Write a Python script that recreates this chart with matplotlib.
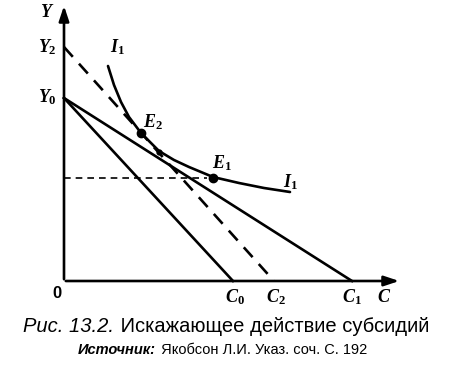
import matplotlib
matplotlib.use("Agg")
import matplotlib.pyplot as plt

plt.rcParams["mathtext.fontset"] = "custom"
plt.rcParams["mathtext.it"] = "Liberation Serif:italic:bold"
plt.rcParams["mathtext.rm"] = "Liberation Serif:bold"

# intercepts of the budget lines
Y0, Y2 = 183, 234
C0, C2, C1 = 169, 210, 288

# indifference curve I1
curve_x = [44, 50, 57, 65, 77, 86, 95, 110, 125, 149, 175, 200, 226]
curve_y = [215, 196, 179, 164, 148, 139, 130, 121, 114, 104, 98, 93, 89]

# equilibrium points
E2 = (77, 148)
Et = (95, 129)
E1 = (149, 103)

fig = plt.figure(figsize=(4.52, 3.78), dpi=100)
ax = fig.add_axes([0, 0, 1, 1])
ax.set_xlim(-64, 452 - 64)
ax.set_ylim(281 - 378, 281)
ax.axis("off")

lw = 1.9
# axes with arrows
ax.annotate("", xy=(0, 278), xytext=(0, -1),
            arrowprops=dict(arrowstyle="-|>,head_length=0.9,head_width=0.3", lw=lw, color="black"))
ax.annotate("", xy=(338, 0), xytext=(-1, 0),
            arrowprops=dict(arrowstyle="-|>,head_length=0.9,head_width=0.3", lw=lw, color="black"))

# budget lines
ax.plot([0, C0], [Y0, 0], color="black", lw=lw)
ax.plot([0, C1], [Y0, 0], color="black", lw=lw)
ax.plot([0, C2], [Y2, 0], color="black", lw=lw, dashes=(5, 3.5))

# horizontal dashed line to E1
ax.plot([0, E1[0] - 6], [E1[1], E1[1]], color="black", lw=1.2, dashes=(4, 3))

# indifference curve
ax.plot(curve_x, curve_y, color="black", lw=lw, solid_capstyle="round")

ax.plot(*E2, "o", color="black", ms=6)
ax.plot(*E1, "o", color="black", ms=6)
ax.plot(*Et, "o", color="black", ms=3.5)

tk = dict(fontsize=13, ha="center", va="center", color="black")
ax.text(-17, 269, "$Y$", **tk)
ax.text(-17, 234, "$Y_2$", **tk)
ax.text(-17, 184, "$Y_0$", **tk)
ax.text(53, 234, "$I_1$", **tk)
ax.text(89, 159, "$E_2$", **tk)
ax.text(158, 118, "$E_1$", **tk)
ax.text(226, 99, "$I_1$", **tk)
ax.text(-7, -13, "0", fontsize=12, fontweight="bold", family="Liberation Sans",
        ha="center", va="center")
ax.text(C0 + 2, -16, "$C_0$", **tk)
ax.text(C2 + 2, -16, "$C_2$", **tk)
ax.text(C1, -16, "$C_1$", **tk)
ax.text(320, -16, "$C$", **tk)

# caption
ax.text(50, -46, "Рис. 13.2.", fontsize=14.5, style="italic", family="Liberation Sans",
        ha="right", va="center")
ax.text(51, -46, " Искажающее действие субсидий", fontsize=14.5, family="Liberation Sans",
        ha="left", va="center")
ax.text(92, -69, "Источник:", fontsize=10.5, style="italic", fontweight="bold",
        family="Liberation Sans", ha="right", va="center")
ax.text(93, -69, " Якобсон Л.И. Указ. соч. С. 192", fontsize=10.5,
        family="Liberation Sans", ha="left", va="center")

fig.savefig("out.png", dpi=100)
